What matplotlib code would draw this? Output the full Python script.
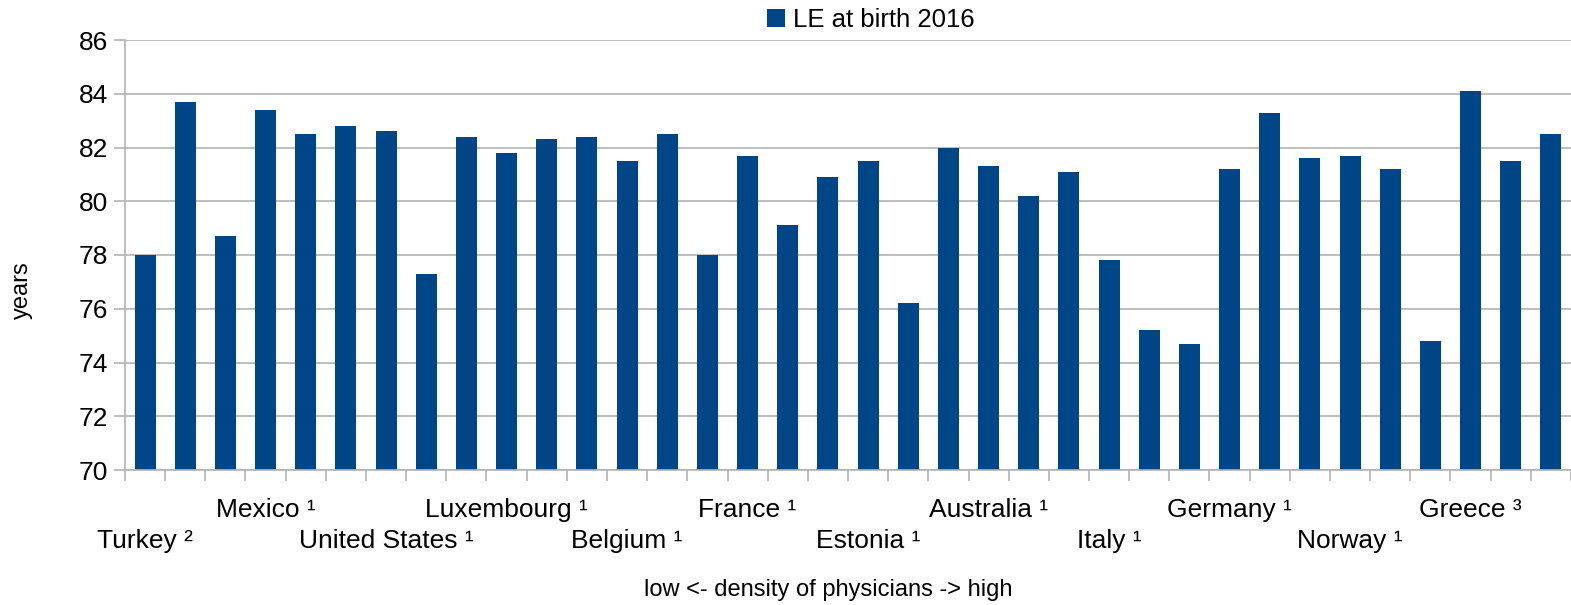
import matplotlib
matplotlib.use("Agg")
import matplotlib.pyplot as plt
import numpy as np

# life expectancy at birth 2016, countries ordered by density of physicians
le_2016 = [78.0, 83.7, 78.7, 83.4, 82.5, 82.8, 82.6, 77.3, 82.4, 81.8,
           82.3, 82.4, 81.5, 82.5, 78.0, 81.7, 79.1, 80.9, 81.5, 76.2,
           82.0, 81.3, 80.2, 81.1, 77.8, 75.2, 74.7, 81.2, 83.3, 81.6,
           81.7, 81.2, 74.8, 84.1, 81.5, 82.5]

# only every third category carries a label, staggered on two rows
upper_pos = [3, 9, 15, 21, 27, 33]
upper_txt = ["Mexico ¹", "Luxembourg ¹", "France ¹", "Australia ¹",
             "Germany ¹", "Greece ³"]
lower_pos = [0, 6, 12, 18, 24, 30]
lower_txt = ["Turkey ²", "United States ¹", "Belgium ¹", "Estonia ¹",
             "Italy ¹", "Norway ¹"]

plt.rcParams['font.family'] = ['Liberation Sans', 'DejaVu Sans']

grid_col = "#b3b3b3"
bar_col = "#004586"

fig = plt.figure(figsize=(15.71, 6.05), dpi=100)
ax = fig.add_axes([125 / 1571, 1 - 470 / 605, 1 - 125 / 1571, 430 / 605])

x = np.arange(len(le_2016))
ax.bar(x, np.array(le_2016) - 70, bottom=70, width=0.52, color=bar_col,
       label="LE at birth 2016", zorder=3)

ax.set_ylim(70, 86)
ax.set_yticks(np.arange(70, 87, 2))
ax.set_xlim(-0.5, 35.15)

ax.grid(axis="y", color=grid_col, linewidth=1.2, zorder=0)
for s in ["top", "right"]:
    ax.spines[s].set_visible(False)
for s in ["left", "bottom"]:
    ax.spines[s].set_color(grid_col)
    ax.spines[s].set_linewidth(1.2)
    ax.spines[s].set_zorder(4)

ax.tick_params(axis="y", direction="out", length=8, width=1.2, color=grid_col,
               pad=4, labelsize=19)

# category boundaries get tick marks, labels sit at category centres
ax.set_xticks(np.arange(-0.5, 36, 1.0), minor=True)
ax.tick_params(axis="x", which="minor", direction="out", length=8, width=1.2,
               color=grid_col)
ax.set_xticks(upper_pos)
ax.set_xticklabels(upper_txt)
ax.tick_params(axis="x", which="major", length=0, pad=20, labelsize=19)

sec = ax.secondary_xaxis("bottom")
sec.set_xticks(lower_pos)
sec.set_xticklabels(lower_txt)
sec.tick_params(axis="x", length=0, pad=42.5, labelsize=19)
sec.spines["bottom"].set_visible(False)

fig.text(22 / 1571, 1 - 290 / 605, "years", rotation=90, fontsize=17,
         ha="center", va="center")
fig.text(828 / 1571, 1 - 590 / 605, "low <- density of physicians -> high",
         fontsize=17, ha="center", va="center")

fig.legend(loc="center", bbox_to_anchor=(871 / 1571, 1 - 20 / 605),
           frameon=False, fontsize=18.5, handlelength=0.68, handleheight=0.68,
           handletextpad=0.32, borderpad=0, borderaxespad=0)

fig.savefig("out.png", dpi=100)
